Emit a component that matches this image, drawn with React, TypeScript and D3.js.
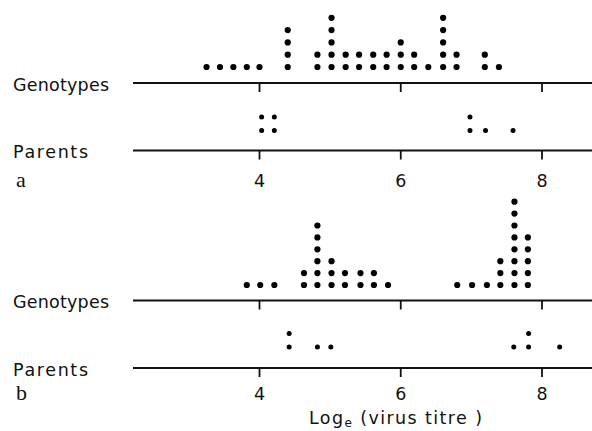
import React from "react";
import * as d3 from "d3";

const ticks = [4, 6, 8];
const tickLabels = ["4", "6", "8"];

const genoAValues = [3.25, 3.44, 3.63, 3.82, 4.0, 4.4, 4.82, 5.02, 5.22, 5.41, 5.61, 5.8, 6.0, 6.19, 6.39, 6.6, 6.79, 7.19, 7.39];
const genoACounts = [1, 1, 1, 1, 1, 4, 2, 5, 2, 2, 2, 2, 3, 2, 1, 5, 2, 2, 1];
const parAValues = [4.03, 4.21, 6.98, 7.2, 7.59];
const parACounts = [2, 2, 2, 1, 1];
const genoBValues = [3.82, 4.01, 4.21, 4.63, 4.82, 5.02, 5.21, 5.43, 5.62, 5.82, 6.8, 7.01, 7.22, 7.41, 7.61, 7.8];
const genoBCounts = [1, 1, 1, 2, 6, 3, 2, 2, 2, 1, 1, 1, 1, 3, 8, 5];
const parBValues = [4.42, 4.82, 5.01, 7.6, 7.81, 8.25];
const parBCounts = [2, 1, 1, 1, 2, 1];

const rowLabels = ["Genotypes", "Parents"];
const panelLabels = ["a", "b"];
const xTitle = "Log";
const xTitleSub = "e";
const xTitleRest = " (virus titre )";

const W = 592;
const H = 431;
const SANS = "'DejaVu Sans', 'Liberation Sans', sans-serif";

const x = d3.scaleLinear().domain([4, 8]).range([259.5, 542]);

type Strip = { axisY: number; values: number[]; counts: number[]; gap: number; step: number; r: number; label: string; labelW: number };

function expand(values: number[], counts: number[]) {
  const out: { v: number; i: number }[] = [];
  values.forEach((v, k) => {
    for (let i = 0; i < counts[k]; i++) out.push({ v, i });
  });
  return out;
}

function StripPlot({ s, showTicks, tickLabelY }: { s: Strip; showTicks: boolean; tickLabelY?: number }) {
  const yS = d3.scaleLinear().domain([0, 1]).range([s.axisY - s.gap, s.axisY - s.gap - s.step]);
  const pts = expand(s.values, s.counts);
  return (
    <g>
      <line x1={133} x2={W} y1={s.axisY} y2={s.axisY} stroke="#111" strokeWidth={2} />
      {ticks.map((t) => (
        <line key={t} x1={x(t)} x2={x(t)} y1={s.axisY} y2={s.axisY + 9} stroke="#111" strokeWidth={1.8} />
      ))}
      {pts.map((p, k) => (
        <circle key={k} cx={x(p.v)} cy={yS(p.i)} r={s.r} fill="#000" />
      ))}
      <text x={13} y={s.axisY + 7.5} fontFamily={SANS} fontSize={17.5} textLength={s.labelW} lengthAdjust="spacing" fill="#111">
        {s.label}
      </text>
      {showTicks && tickLabelY !== undefined &&
        ticks.map((t, k) => (
          <text key={t} x={x(t)} y={tickLabelY} textAnchor="middle" fontFamily={SANS} fontSize={17.5} fill="#111">
            {tickLabels[k]}
          </text>
        ))}
    </g>
  );
}

export default function App() {
  const panels = [
    {
      geno: { axisY: 83, values: genoAValues, counts: genoACounts, gap: 16, step: 12.3, r: 3.1, label: rowLabels[0], labelW: 96 },
      par: { axisY: 150.5, values: parAValues, counts: parACounts, gap: 20, step: 13.5, r: 2.5, label: rowLabels[1], labelW: 75 },
      tickY: 187,
      letterY: 187,
      letter: panelLabels[0],
    },
    {
      geno: { axisY: 300.5, values: genoBValues, counts: genoBCounts, gap: 15.5, step: 11.9, r: 3.1, label: rowLabels[0], labelW: 96 },
      par: { axisY: 368, values: parBValues, counts: parBCounts, gap: 21, step: 13.5, r: 2.5, label: rowLabels[1], labelW: 75 },
      tickY: 400,
      letterY: 400,
      letter: panelLabels[1],
    },
  ];
  return (
    <svg width={W} height={H} style={{ position: "absolute", left: 0, top: 0, background: "#fff" }}>
      <rect width={W} height={H} fill="#fff" />
      {panels.map((p, k) => (
        <g key={k}>
          <StripPlot s={p.geno} showTicks={false} />
          <StripPlot s={p.par} showTicks={true} tickLabelY={p.tickY} />
          <text x={16} y={p.letterY} fontFamily="'Liberation Serif', 'DejaVu Serif', serif" fontSize={22} fill="#111">
            {p.letter}
          </text>
        </g>
      ))}
      <text x={309} y={424} fontFamily={SANS} fontSize={17.5} fill="#111" textLength={173} lengthAdjust="spacing">
        {xTitle}
        <tspan fontSize={12} dy={3}>{xTitleSub}</tspan>
        <tspan dy={-3}>{xTitleRest}</tspan>
      </text>
    </svg>
  );
}
